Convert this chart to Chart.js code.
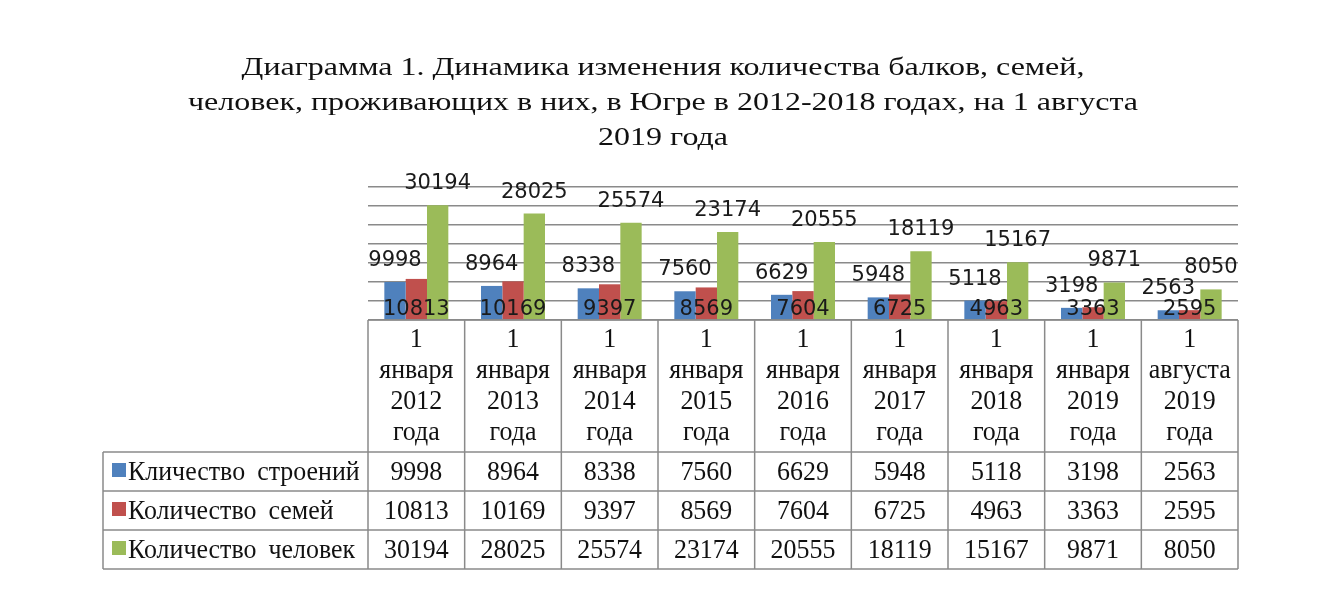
<!DOCTYPE html>
<html>
<head>
<meta charset="utf-8">
<script src="https://cdn.jsdelivr.net/npm/chart.js@4/dist/chart.umd.min.js"></script>
<style>
html, body { margin: 0; padding: 0; background: #fff; }
canvas { display: block; }
</style>
</head>
<body>
<canvas id="chart" width="1326" height="596"></canvas>
<script>
var titleLines = [
    'Диаграмма 1. Динамика изменения количества балков, семей,',
    'человек, проживающих в них, в Югре в 2012-2018 годах, на 1 августа',
    '2019 года'
];
var categories = [
    ['1', 'января', '2012', 'года'],
    ['1', 'января', '2013', 'года'],
    ['1', 'января', '2014', 'года'],
    ['1', 'января', '2015', 'года'],
    ['1', 'января', '2016', 'года'],
    ['1', 'января', '2017', 'года'],
    ['1', 'января', '2018', 'года'],
    ['1', 'января', '2019', 'года'],
    ['1', 'августа', '2019', 'года']
];
var seriesNames = ['Кличество строений', 'Количество семей', 'Количество человек'];
var buildings = [9998, 8964, 8338, 7560, 6629, 5948, 5118, 3198, 2563];
var families = [10813, 10169, 9397, 8569, 7604, 6725, 4963, 3363, 2595];
var people = [30194, 28025, 25574, 23174, 20555, 18119, 15167, 9871, 8050];
var colors = ['#4F81BD', '#C0504D', '#9BBB59'];

// text with a horizontal stretch, the picture is a bit squashed
function drawText(ctx, text, x, y, font, sx, align) {
    ctx.save();
    ctx.font = font;
    ctx.textAlign = align || 'center';
    ctx.textBaseline = 'alphabetic';
    ctx.translate(x, y);
    ctx.scale(sx, 1);
    ctx.fillText(text, 0, 0);
    ctx.restore();
}

var labelFont = '21px "DejaVu Sans"';
var serifFont = '27px "Liberation Serif"';
var serifScale = 0.96;

var barLabels = {
    id: 'barLabels',
    afterDatasetsDraw: function (chart) {
        var ctx = chart.ctx;
        var base = chart.chartArea.bottom;
        ctx.fillStyle = '#1a1a1a';
        chart.data.datasets.forEach(function (ds, d) {
            chart.getDatasetMeta(d).data.forEach(function (bar, i) {
                var y = d === 1 ? base - 5 : bar.y - 16;
                drawText(ctx, String(ds.data[i]), bar.x, y, labelFont, 1.0);
            });
        });
    }
};

var titleAndTable = {
    id: 'titleAndTable',
    afterDraw: function (chart) {
        var ctx = chart.ctx;
        var area = chart.chartArea;
        var n = categories.length;
        var colW = (area.right - area.left) / n;
        var top = area.bottom;
        var headBottom = 452;
        var rowH = 39;
        var leftEdge = 103;
        var rows = [buildings, families, people];

        ctx.fillStyle = '#111';
        titleLines.forEach(function (line, k) {
            drawText(ctx, line, 663, 75 + k * 35, '25px "Liberation Serif"', 1.28);
        });

        ctx.strokeStyle = '#8a8a8a';
        ctx.lineWidth = 1.5;
        ctx.beginPath();
        ctx.moveTo(area.left, top);
        ctx.lineTo(area.right, top);
        for (var r = 0; r <= rows.length; r++) {
            ctx.moveTo(leftEdge, headBottom + r * rowH);
            ctx.lineTo(area.right, headBottom + r * rowH);
        }
        var bottom = headBottom + rows.length * rowH;
        ctx.moveTo(leftEdge, headBottom);
        ctx.lineTo(leftEdge, bottom);
        for (var c = 0; c <= n; c++) {
            var x = area.left + c * colW;
            ctx.moveTo(x, top);
            ctx.lineTo(x, bottom);
        }
        ctx.stroke();

        ctx.fillStyle = '#111';
        categories.forEach(function (lines, i) {
            var cx = chart.scales.x.getPixelForValue(i);
            lines.forEach(function (t, k) {
                drawText(ctx, t, cx, 347 + k * 31, serifFont, serifScale);
            });
            rows.forEach(function (vals, r) {
                drawText(ctx, String(vals[i]), cx, headBottom + r * rowH + 28, serifFont, serifScale);
            });
        });

        rows.forEach(function (vals, r) {
            var ry = headBottom + r * rowH;
            ctx.fillStyle = colors[r];
            ctx.fillRect(112, ry + 11, 14, 14);
            ctx.fillStyle = '#111';
            ctx.font = serifFont;
            var x = 128;
            seriesNames[r].split(' ').forEach(function (w) {
                drawText(ctx, w, x, ry + 28, serifFont, serifScale, 'left');
                x += ctx.measureText(w).width * serifScale + 12;
            });
        });
    }
};

var ctx = document.getElementById('chart').getContext('2d');
var myChart = new Chart(ctx, {
    type: 'bar',
    data: {
        labels: categories,
        datasets: [
            { label: seriesNames[0], data: buildings, backgroundColor: colors[0] },
            { label: seriesNames[1], data: families, backgroundColor: colors[1] },
            { label: seriesNames[2], data: people, backgroundColor: colors[2] }
        ]
    },
    options: {
        responsive: false,
        animation: false,
        devicePixelRatio: 1,
        layout: { padding: { left: 368, right: 88, top: 187, bottom: 276 } },
        datasets: { bar: { categoryPercentage: 0.662, barPercentage: 1 } },
        plugins: {
            legend: { display: false },
            title: { display: false },
            tooltip: { enabled: false }
        },
        scales: {
            x: { display: false },
            y: {
                min: 0,
                max: 35000,
                ticks: { display: false, stepSize: 5000 },
                grid: { color: '#8a8a8a', lineWidth: 1.5, drawTicks: false },
                border: { display: false }
            }
        }
    },
    plugins: [barLabels, titleAndTable]
});
</script>
</body>
</html>
